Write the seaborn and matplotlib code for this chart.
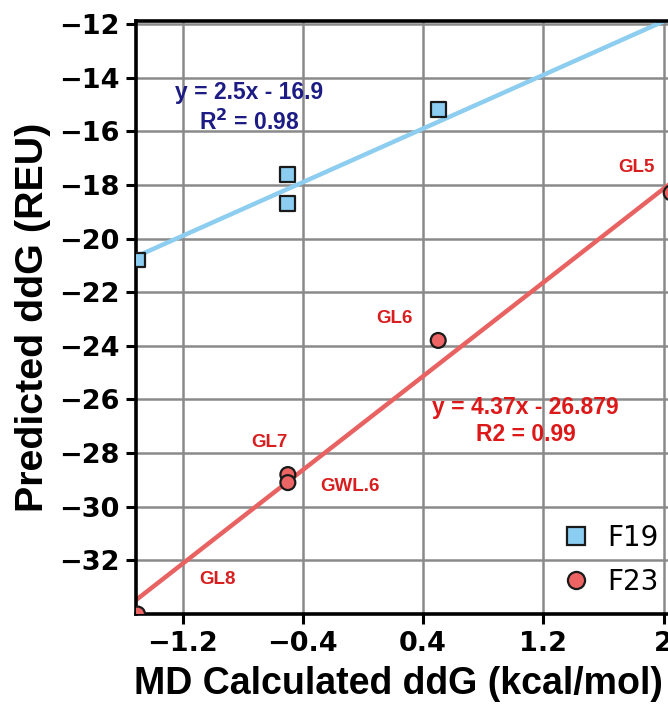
import numpy as np
import pandas as pd
import matplotlib
matplotlib.use("Agg")
import matplotlib.pyplot as plt
import seaborn as sns

# MD calculated ddG (kcal/mol) vs predicted ddG (REU)
f19_x = [-1.5, -0.5, -0.5, 0.5, 2.1]
f19_y = [-20.8, -17.6, -18.7, -15.2, -11.9]
f23_x = [-1.5, -0.5, -0.5, 0.5, 2.05]
f23_y = [-34.0, -28.8, -29.1, -23.8, -18.3]
f23_names = ["GL8", "GL7", "GWL.6", "GL6", "GL5"]

# fitted lines (slope, intercept, R^2)
f19_fit = (2.5, -16.9, 0.98)
f23_fit = (4.37, -26.879, 0.99)

x_ticks = [-1.2, -0.4, 0.4, 1.2, 2.0]
x_tick_labels = ["\u22121.2", "\u22120.4", "0.4", "1.2", "2"]
y_ticks = [-32, -30, -28, -26, -24, -22, -20, -18, -16, -14, -12]

df = pd.DataFrame({
    "x": f19_x + f23_x,
    "y": f19_y + f23_y,
    "series": ["F19"] * len(f19_x) + ["F23"] * len(f23_x),
})

sns.set_style("white")
plt.rcParams["text.color"] = "black"
plt.rcParams["axes.labelcolor"] = "black"
plt.rcParams["xtick.color"] = "black"
plt.rcParams["ytick.color"] = "black"

fig = plt.figure(figsize=(6.68, 7.07), dpi=100)
ax = fig.add_axes([0.2036, 0.1315, 0.835, 0.8392])

blue_fill = "#8ccdf2"
blue_line = "#8ccdf0"
red_fill = "#ec6464"
red_line = "#e86262"

xlim = (-1.51, 2.2)
ylim = (-34.0, -11.88)
ax.set_xlim(*xlim)
ax.set_ylim(*ylim)

ax.grid(True, color="#8a8a8a", linewidth=1.8, zorder=0)
ax.set_axisbelow(True)

xs = np.array(xlim)
ax.plot(xs, f19_fit[0] * xs + f19_fit[1], color=blue_line, lw=3.2, zorder=2)
ax.plot(xs, f23_fit[0] * xs + f23_fit[1], color=red_line, lw=3.2, zorder=2)

sns.scatterplot(data=df, x="x", y="y", hue="series", style="series",
                markers={"F19": "s", "F23": "o"},
                palette={"F19": blue_fill, "F23": red_fill},
                s=115, edgecolor="#1a1a1a", linewidth=1.6, ax=ax, zorder=3)

# point labels
label_pos = {"GL8": (-0.965, -32.7), "GL7": (-0.62, -27.6),
             "GWL.6": (-0.09, -29.25), "GL6": (0.21, -22.97),
             "GL5": (1.82, -17.34)}
for name in f23_names:
    lx, ly = label_pos[name]
    ax.text(lx, ly, name, color="#d81e1e", fontsize=13.5, fontweight="bold",
            family="Liberation Sans", ha="center", va="center")

eq_kw = dict(fontsize=16.5, fontweight="bold", family="Liberation Sans",
             ha="center", va="center")
ax.text(-0.757, -14.57, f"y = {f19_fit[0]}x - {abs(f19_fit[1])}",
        color="#1c1c84", **eq_kw)
ax.text(-0.757, -15.66, f"R$^\\mathbf{{2}}$ = {f19_fit[2]:.2f}",
        color="#1c1c84", **eq_kw)
ax.text(1.08, -26.29, f"y = {f23_fit[0]}x - {abs(f23_fit[1])}",
        color="#dd1818", **eq_kw)
ax.text(1.08, -27.3, f"R2 = {f23_fit[2]:.2f}",
        color="#dd1818", **eq_kw)

ax.set_xticks(x_ticks)
ax.set_xticklabels(x_tick_labels)
ax.set_yticks(y_ticks)
ax.tick_params(axis="both", which="major", direction="out", length=7,
               width=2.2, color="black", labelcolor="black", labelsize=19.5,
               pad=5, bottom=True, left=True)
for lab in ax.get_xticklabels() + ax.get_yticklabels():
    lab.set_fontweight("bold")

for side in ["left", "bottom", "top", "right"]:
    ax.spines[side].set_color("black")
    ax.spines[side].set_linewidth(2.6)

ax.set_xlabel("MD Calculated ddG (kcal/mol)", fontsize=27, fontweight="bold",
              family="Liberation Sans", color="black")
ax.xaxis.set_label_coords(0.471, -0.088, transform=ax.transAxes)
ax.xaxis.label.set_va("top")
ax.set_ylabel("Predicted ddG (REU)", fontsize=28.4, fontweight="bold",
              family="Liberation Sans", labelpad=6, color="black")

leg = ax.legend(loc="lower left", bbox_to_anchor=(0.72, 0.012), frameon=False,
                fontsize=20, handletextpad=0.1, labelspacing=0.57,
                markerscale=1.15, borderaxespad=0)
for t in leg.get_texts():
    t.set_color("black")

fig.savefig("out.png", dpi=100)
